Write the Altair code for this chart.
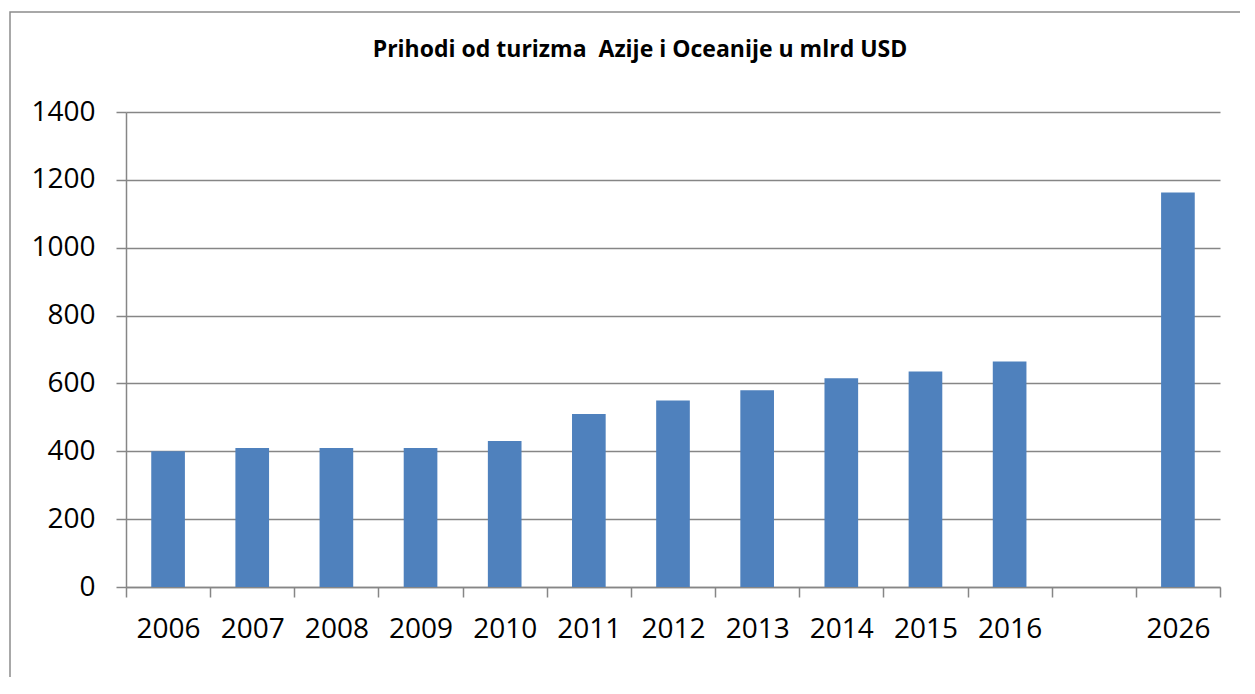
import altair as alt
import pandas as pd

years = ["2006", "2007", "2008", "2009", "2010", "2011", "2012", "2013", "2014", "2015", "2016", "2026"]
values = [400, 410, 410, 410, 430, 510, 550, 580, 615, 635, 665, 1163]
domain = ["2006", "2007", "2008", "2009", "2010", "2011", "2012", "2013", "2014", "2015", "2016", " ", "2026"]
y_ticks = [0, 200, 400, 600, 800, 1000, 1200, 1400]
title_text = "Prihodi od turizma\u00a0 Azije i Oceanije u mlrd USD"

df = pd.DataFrame({"year": years, "value": values})

grey = "#868686"
font = "Open Sans"

border = alt.Chart(pd.DataFrame({"a": [0]})).mark_rect(
    fill=None, stroke="#8c8c8c", strokeWidth=1.5
).encode(
    x=alt.value(-116), x2=alt.value(1300), y=alt.value(-100), y2=alt.value(700)
)

bars = alt.Chart(df).mark_bar(color="#4F81BD", width=alt.RelativeBandSize(0.4)).encode(
    x=alt.X("year:N", scale=alt.Scale(domain=domain, paddingInner=0, paddingOuter=0),
            axis=alt.Axis(title=None, labelAngle=0, tickBand="extent", grid=False,
                          labelFontSize=28, labelFont=font, labelColor="black",
                          labelPadding=18, tickSize=10, tickColor=grey, domainColor=grey,
                          tickWidth=1.5, domainWidth=1.5)),
    y=alt.Y("value:Q", scale=alt.Scale(domain=[0, 1400], nice=False),
            axis=alt.Axis(title=None, values=y_ticks, format="d", labelFontSize=28, labelFont=font,
                          labelColor="black", labelPadding=21, tickSize=10, tickColor=grey,
                          domainColor=grey, gridColor=grey, gridWidth=1.5, tickWidth=1.5,
                          domainWidth=1.5)),
)

chart = alt.layer(border, bars).properties(
    width=1094, height=475,
    title=alt.TitleParams(title_text, fontSize=23, font=font, fontWeight="bold",
                          anchor="middle", dx=-33, dy=61, offset=10, color="black"),
    autosize=alt.AutoSizeParams(type="none"),
    padding={"left": 118, "top": 104, "right": 20, "bottom": 90},
).configure_view(stroke=None)

chart.save("out.html", embed_options={"renderer": "svg", "actions": False})
